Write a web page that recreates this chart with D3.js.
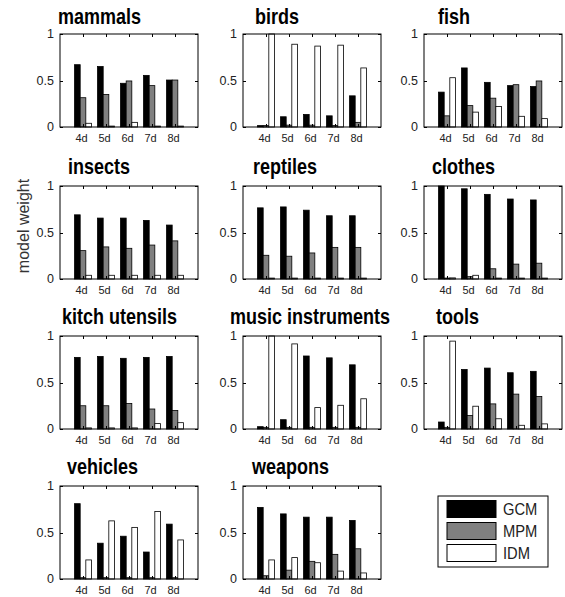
<!DOCTYPE html>
<html>
<head>
<meta charset="utf-8">
<script src="https://cdn.jsdelivr.net/npm/d3@7/dist/d3.min.js"></script>
<style>
  html, body { margin: 0; padding: 0; background: #fff; }
  svg { display: block; font-family: "Liberation Sans", Arial, sans-serif; }
</style>
</head>
<body>
<svg id="chart" width="565" height="597"></svg>
<script>
// Delay conditions on the x axis
const delays = ["4d", "5d", "6d", "7d", "8d"];
const models = ["GCM", "MPM", "IDM"];
const modelFill = ["#000000", "#808080", "#ffffff"];
const yTicks = [0, 0.5, 1];
const yTickLabels = ["0", "0.5", "1"];

const categories = ["mammals", "birds", "fish", "insects", "reptiles", "clothes",
  "kitch utensils", "music instruments", "tools", "vehicles", "weapons"];

// Model weights per category, one value per delay
const gcm = [
  [0.67, 0.65, 0.47, 0.555, 0.505],
  [0.015, 0.11, 0.135, 0.12, 0.335],
  [0.375, 0.635, 0.48, 0.445, 0.435],
  [0.69, 0.655, 0.655, 0.63, 0.58],
  [0.765, 0.775, 0.74, 0.68, 0.68],
  [1.0, 0.97, 0.91, 0.86, 0.85],
  [0.77, 0.78, 0.76, 0.77, 0.78],
  [0.025, 0.1, 0.785, 0.765, 0.69],
  [0.075, 0.64, 0.655, 0.605, 0.62],
  [0.81, 0.385, 0.46, 0.29, 0.59],
  [0.77, 0.70, 0.665, 0.665, 0.63]
];
const mpm = [
  [0.315, 0.35, 0.495, 0.445, 0.505],
  [0.015, 0.02, 0.02, 0.015, 0.05],
  [0.12, 0.23, 0.31, 0.455, 0.495],
  [0.305, 0.345, 0.33, 0.365, 0.41],
  [0.255, 0.245, 0.28, 0.34, 0.34],
  [0.01, 0.025, 0.11, 0.16, 0.17],
  [0.25, 0.25, 0.275, 0.215, 0.2],
  [0.018, 0.018, 0.018, 0.018, 0.018],
  [0.018, 0.145, 0.27, 0.375, 0.35],
  [0.014, 0.014, 0.014, 0.014, 0.014],
  [0.035, 0.095, 0.19, 0.265, 0.325]
];
const idm = [
  [0.04, 0.01, 0.05, 0.01, 0.01],
  [1.0, 0.89, 0.87, 0.88, 0.635],
  [0.53, 0.16, 0.22, 0.115, 0.09],
  [0.04, 0.04, 0.04, 0.04, 0.04],
  [0.01, 0.01, 0.01, 0.01, 0.01],
  [0.012, 0.04, 0.01, 0.01, 0.01],
  [0.012, 0.012, 0.012, 0.058, 0.068],
  [1.0, 0.915, 0.23, 0.255, 0.325],
  [0.945, 0.245, 0.11, 0.04, 0.055],
  [0.205, 0.625, 0.555, 0.725, 0.42],
  [0.205, 0.23, 0.175, 0.085, 0.065]
];
const series = [gcm, mpm, idm];

// Panel grid layout
const colLeft = [60, 243, 424];
const rowTop = [34, 186, 336, 486];
const titleRise = [10, 12.5, 12.5, 12.5];
const panelW = 138, panelH = 93;
const titleDx = [-2, 12, 14, 8, 10, 8, 2, -13, 12, 7, 9];

const svg = d3.select("#chart");

const x = d3.scaleLinear().domain([0, 6]).range([0, panelW]);
const y = d3.scaleLinear().domain([0, 1]).range([panelH, 0]);
const barUnits = 0.245;
const barOffsets = [-barUnits, 0, barUnits];
const tickLen = 3;

categories.forEach((name, i) => {
  const row = Math.floor(i / 3);
  const left = colLeft[i % 3];
  const top = rowTop[row];
  const g = svg.append("g").attr("transform", `translate(${left},${top})`);

  // bars: one group of three per delay
  series.forEach((s, m) => {
    g.selectAll(null)
      .data(s[i])
      .enter().append("rect")
      .attr("x", (d, k) => x(k + 1 + barOffsets[m] - barUnits / 2))
      .attr("width", x(barUnits) - x(0))
      .attr("y", d => y(d))
      .attr("height", d => y(0) - y(d))
      .attr("fill", modelFill[m])
      .attr("stroke", "#000")
      .attr("stroke-width", 0.8);
  });

  // frame
  g.append("rect")
    .attr("width", panelW).attr("height", panelH)
    .attr("fill", "none").attr("stroke", "#000").attr("stroke-width", 1);

  // inward ticks on all four sides
  delays.forEach((dl, k) => {
    const xx = Math.round(x(k + 1)) + 0.5;
    g.append("line").attr("x1", xx).attr("x2", xx).attr("y1", panelH).attr("y2", panelH - tickLen).attr("stroke", "#000");
    g.append("line").attr("x1", xx).attr("x2", xx).attr("y1", 0).attr("y2", tickLen).attr("stroke", "#000");
  });
  yTicks.forEach(t => {
    const yy = Math.round(y(t)) + 0.5;
    g.append("line").attr("x1", 0).attr("x2", tickLen).attr("y1", yy).attr("y2", yy).attr("stroke", "#000");
    g.append("line").attr("x1", panelW).attr("x2", panelW - tickLen).attr("y1", yy).attr("y2", yy).attr("stroke", "#000");
  });

  // tick labels
  g.selectAll(null).data(delays).enter().append("text")
    .attr("x", (d, k) => x(k + 1) - 1.5)
    .attr("y", panelH + 15)
    .attr("text-anchor", "middle")
    .attr("font-size", 11)
    .attr("fill", "#222")
    .text(d => d);
  g.selectAll(null).data(yTicks).enter().append("text")
    .attr("x", -6)
    .attr("y", d => y(d))
    .attr("dy", "0.35em")
    .attr("text-anchor", "end")
    .attr("font-size", 12.5)
    .attr("fill", "#222")
    .text((d, k) => yTickLabels[k]);

  // panel title (slightly tall lettering)
  g.append("text")
    .attr("transform", `translate(${titleDx[i]},${-titleRise[row]}) scale(1,1.18)`)
    .attr("font-size", 18)
    .attr("font-weight", "bold")
    .attr("fill", "#000")
    .text(name);
});

// shared y-axis label
svg.append("text")
  .attr("transform", "translate(29,226) rotate(-90)")
  .attr("text-anchor", "middle")
  .attr("font-size", 16)
  .attr("fill", "#333")
  .text("model weight");

// legend
const lg = svg.append("g").attr("transform", "translate(438,496)");
lg.append("rect").attr("width", 110).attr("height", 71)
  .attr("fill", "#fff").attr("stroke", "#000");
models.forEach((m, k) => {
  lg.append("rect")
    .attr("x", 9).attr("y", 4.5 + k * 22)
    .attr("width", 49).attr("height", 17)
    .attr("fill", modelFill[k]).attr("stroke", "#000");
  lg.append("text")
    .attr("transform", `translate(65,${13 + k * 22}) scale(0.95,1.12)`)
    .attr("dy", "0.35em")
    .attr("font-size", 15.5)
    .attr("fill", "#222")
    .text(m);
});
</script>
</body>
</html>
